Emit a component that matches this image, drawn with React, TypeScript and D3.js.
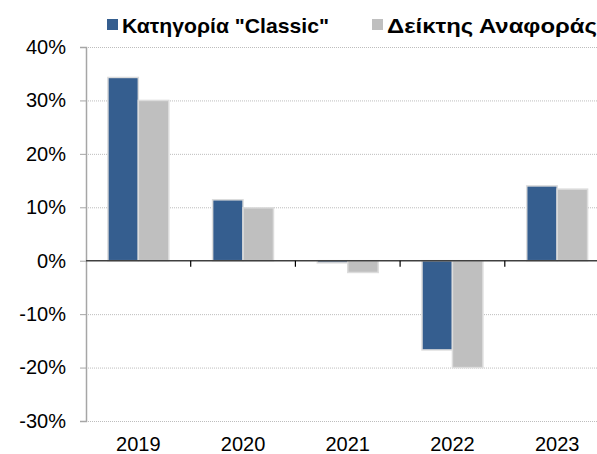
import React, { useEffect, useRef } from 'react'
import * as d3 from 'd3'

const years = ['2019', '2020', '2021', '2022', '2023']
const classic = [34.3, 11.4, -0.4, -16.7, 14.0]
const benchmark = [30.0, 9.9, -2.2, -20.0, 13.4]
const yTicks = [-30, -20, -10, 0, 10, 20, 30, 40]
const seriesNames = ['Κατηγορία "Classic"', 'Δείκτης Αναφοράς']
const colors = ['#355e8f', '#bfbfbf']

const App = () => {
  const svgRef = useRef<SVGSVGElement>(null)

  useEffect(() => {
    const svg = d3.select(svgRef.current)
    svg.selectAll('*').remove()

    const left = 86
    const top = 47
    const bottom = 421
    const step = 104.7
    const font = 'Arial, "Liberation Sans", sans-serif'

    const y = d3.scaleLinear().domain([-30, 40]).range([bottom, top])
    const x = d3.scaleBand().domain(years).range([left, left + step * years.length]).paddingInner(0).paddingOuter(0)
    const inner = d3.scaleBand().domain(['0', '1']).range([0, x.bandwidth()]).paddingOuter(0.72).paddingInner(0)

    // gridlines
    svg.append('g')
      .selectAll('line')
      .data(yTicks.filter(d => d !== 0))
      .enter()
      .append('line')
      .attr('x1', left)
      .attr('x2', 597)
      .attr('y1', d => y(d) + 0.5)
      .attr('y2', d => y(d) + 0.5)
      .attr('stroke', '#bdbdbd')
      .attr('stroke-width', 1)
      .attr('stroke-dasharray', '1,1')

    // bars
    const series = [classic, benchmark]
    series.forEach((vals, si) => {
      svg.append('g')
        .selectAll('rect')
        .data(vals)
        .enter()
        .append('rect')
        .attr('x', (d, i) => x(years[i])! + inner(String(si))!)
        .attr('y', d => y(Math.max(0, d)))
        .attr('width', inner.bandwidth())
        .attr('height', d => Math.abs(y(d) - y(0)))
        .attr('fill', colors[si])
        .attr('stroke', '#dcdcdc')
        .attr('stroke-width', 1.5)
    })

    // y axis
    const yAxis = d3.axisLeft(y)
      .tickValues(yTicks)
      .tickSize(6)
      .tickPadding(14)
      .tickFormat(d => `${d}%`)
    const gy = svg.append('g')
      .attr('transform', `translate(${left},0)`)
      .call(yAxis)
    gy.select('.domain').attr('stroke', '#a6a6a6').attr('stroke-width', 1.5)
    gy.selectAll('.tick line').attr('stroke', '#a6a6a6')
    gy.selectAll('.tick text')
      .attr('font-family', font)
      .attr('font-size', 20)
      .attr('fill', '#000')

    // zero line with category separators
    svg.append('line')
      .attr('x1', left)
      .attr('x2', 597)
      .attr('y1', y(0))
      .attr('y2', y(0))
      .attr('stroke', '#404040')
      .attr('stroke-width', 1.5)
    svg.append('g')
      .selectAll('line')
      .data(years.slice(1))
      .enter()
      .append('line')
      .attr('x1', d => x(d)!)
      .attr('x2', d => x(d)!)
      .attr('y1', y(0))
      .attr('y2', y(0) + 6)
      .attr('stroke', '#000')
      .attr('stroke-width', 1.2)

    // x labels
    svg.append('g')
      .selectAll('text')
      .data(years)
      .enter()
      .append('text')
      .attr('x', d => x(d)! + x.bandwidth() / 2)
      .attr('y', 451)
      .attr('text-anchor', 'middle')
      .attr('font-family', font)
      .attr('font-size', 20)
      .text(d => d)

    // legend
    const legendX = [107, 372]
    const legendW = [207, 210]
    seriesNames.forEach((name, i) => {
      svg.append('rect')
        .attr('x', legendX[i])
        .attr('y', 19)
        .attr('width', 11)
        .attr('height', 11)
        .attr('fill', colors[i])
      svg.append('text')
        .attr('x', legendX[i] + 15)
        .attr('y', 33)
        .attr('font-family', font)
        .attr('font-size', 20.5)
        .attr('font-weight', 'bold')
        .attr('textLength', legendW[i])
        .attr('lengthAdjust', 'spacingAndGlyphs')
        .text(name)
    })
  }, [])

  return (
    <svg
      ref={svgRef}
      width={597}
      height={454}
      style={{ position: 'absolute', left: 0, top: 0, background: '#fff' }}
    ></svg>
  )
}

export default App
